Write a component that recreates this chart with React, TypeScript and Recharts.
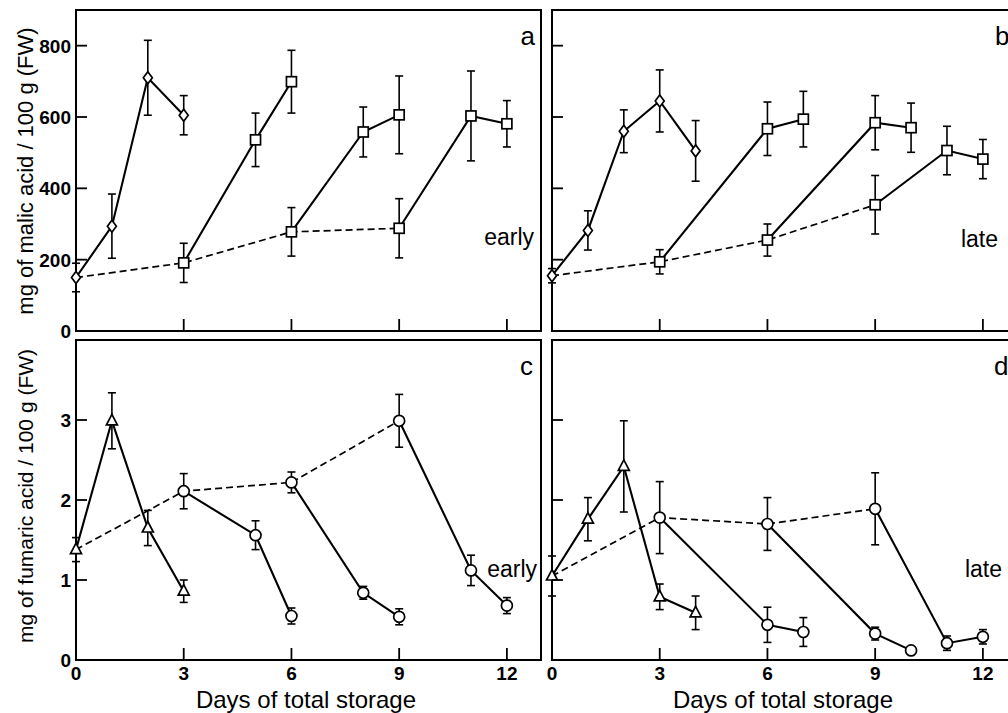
import React from "react";
import {
  ComposedChart,
  Line,
  XAxis,
  YAxis,
  ErrorBar,
  ReferenceArea,
} from "recharts";

const FONT = '"Liberation Sans", Arial, Helvetica, sans-serif';

// -------------------------
// DATA
// -------------------------
const DAY_TICKS = [0, 3, 6, 9, 12];
const MALIC_TICKS = [0, 200, 400, 600, 800];
const FUMARIC_TICKS = [0, 1, 2, 3];

type Pt = { day: number; v: number; e?: number };

// a: malic acid, early
const aDiamond: Pt[] = [
  { day: 0, v: 150, e: 40 },
  { day: 1, v: 294, e: 90 },
  { day: 2, v: 710, e: 105 },
  { day: 3, v: 605, e: 55 },
];
const aDashed: Pt[] = [
  { day: 0, v: 150 },
  { day: 3, v: 191 },
  { day: 6, v: 278 },
  { day: 9, v: 288 },
];
const aSquare3: Pt[] = [
  { day: 3, v: 191, e: 55 },
  { day: 5, v: 536, e: 75 },
  { day: 6, v: 699, e: 88 },
];
const aSquare6: Pt[] = [
  { day: 6, v: 278, e: 68 },
  { day: 8, v: 558, e: 70 },
  { day: 9, v: 606, e: 109 },
];
const aSquare9: Pt[] = [
  { day: 9, v: 288, e: 83 },
  { day: 11, v: 603, e: 126 },
  { day: 12, v: 581, e: 65 },
];

// b: malic acid, late
const bDiamond: Pt[] = [
  { day: 0, v: 155, e: 20 },
  { day: 1, v: 282, e: 55 },
  { day: 2, v: 560, e: 60 },
  { day: 3, v: 645, e: 87 },
  { day: 4, v: 505, e: 85 },
];
const bDashed: Pt[] = [
  { day: 0, v: 155 },
  { day: 3, v: 194 },
  { day: 6, v: 255 },
  { day: 9, v: 354 },
];
const bSquare3: Pt[] = [
  { day: 3, v: 194, e: 34 },
  { day: 6, v: 567, e: 75 },
  { day: 7, v: 594, e: 78 },
];
const bSquare6: Pt[] = [
  { day: 6, v: 255, e: 45 },
  { day: 9, v: 584, e: 76 },
  { day: 10, v: 570, e: 69 },
];
const bSquare9: Pt[] = [
  { day: 9, v: 354, e: 82 },
  { day: 11, v: 506, e: 68 },
  { day: 12, v: 482, e: 55 },
];

// c: fumaric acid, early
const cTriangle: Pt[] = [
  { day: 0, v: 1.38, e: 0.15 },
  { day: 1, v: 2.99, e: 0.35 },
  { day: 2, v: 1.65, e: 0.22 },
  { day: 3, v: 0.86, e: 0.14 },
];
const cDashed: Pt[] = [
  { day: 0, v: 1.38 },
  { day: 3, v: 2.11 },
  { day: 6, v: 2.22 },
  { day: 9, v: 2.99 },
];
const cCircle3: Pt[] = [
  { day: 3, v: 2.11, e: 0.22 },
  { day: 5, v: 1.56, e: 0.18 },
  { day: 6, v: 0.55, e: 0.1 },
];
const cCircle6: Pt[] = [
  { day: 6, v: 2.22, e: 0.13 },
  { day: 8, v: 0.84, e: 0.08 },
  { day: 9, v: 0.54, e: 0.1 },
];
const cCircle9: Pt[] = [
  { day: 9, v: 2.99, e: 0.33 },
  { day: 11, v: 1.12, e: 0.19 },
  { day: 12, v: 0.68, e: 0.1 },
];

// d: fumaric acid, late
const dTriangle: Pt[] = [
  { day: 0, v: 1.05, e: 0.25 },
  { day: 1, v: 1.76, e: 0.27 },
  { day: 2, v: 2.42, e: 0.57 },
  { day: 3, v: 0.79, e: 0.16 },
  { day: 4, v: 0.59, e: 0.21 },
];
const dDashed: Pt[] = [
  { day: 0, v: 1.05 },
  { day: 3, v: 1.78 },
  { day: 6, v: 1.7 },
  { day: 9, v: 1.89 },
];
const dCircle3: Pt[] = [
  { day: 3, v: 1.78, e: 0.45 },
  { day: 6, v: 0.44, e: 0.22 },
  { day: 7, v: 0.35, e: 0.18 },
];
const dCircle6: Pt[] = [
  { day: 6, v: 1.7, e: 0.33 },
  { day: 9, v: 0.33, e: 0.08 },
  { day: 10, v: 0.12, e: 0 },
];
const dCircle9: Pt[] = [
  { day: 9, v: 1.89, e: 0.45 },
  { day: 11, v: 0.21, e: 0.09 },
  { day: 12, v: 0.29, e: 0.09 },
];

// -------------------------
// MARKERS / TICKS
// -------------------------
type Kind = "diamond" | "square" | "triangle" | "circle";

function Marker({ cx, cy, kind }: { cx?: number; cy?: number; kind: Kind }) {
  if (cx == null || cy == null) return null;
  const common = { fill: "#fff", stroke: "#000", strokeWidth: 1.7 };
  if (kind === "diamond")
    return (
      <polygon
        points={`${cx},${cy - 6} ${cx + 4.5},${cy} ${cx},${cy + 6} ${cx - 4.5},${cy}`}
        {...common}
      />
    );
  if (kind === "square")
    return <rect x={cx - 5} y={cy - 5} width={10} height={10} {...common} />;
  if (kind === "triangle")
    return (
      <polygon
        points={`${cx},${cy - 6.5} ${cx + 5.5},${cy + 4} ${cx - 5.5},${cy + 4}`}
        {...common}
      />
    );
  return <circle cx={cx} cy={cy} r={5.5} {...common} />;
}

const tickFont = { fontFamily: FONT, fontSize: 19, fontWeight: 700, fill: "#000" };

function XTick(props: any) {
  const { x, y, payload, showLabel } = props;
  const axisY = y - 6;
  return (
    <g>
      {payload.value !== 0 && (
        <line x1={x} x2={x} y1={axisY} y2={axisY - 12} stroke="#000" strokeWidth={1.8} />
      )}
      {showLabel && (
        <text x={x} y={y} dy="0.72em" textAnchor="middle" style={tickFont}>
          {payload.value}
        </text>
      )}
    </g>
  );
}

function YTick(props: any) {
  const { x, y, payload, showLabel } = props;
  const axisX = x + 5;
  return (
    <g>
      {payload.value !== 0 && (
        <line x1={axisX} x2={axisX + 11} y1={y} y2={y} stroke="#000" strokeWidth={1.8} />
      )}
      {showLabel && (
        <text x={x} y={y} dy="0.36em" textAnchor="end" style={tickFont}>
          {payload.value}
        </text>
      )}
    </g>
  );
}

type Series = { data: Pt[]; kind?: Kind; dashed?: boolean };

const X_MAX = 12.95;

function Panel({
  left,
  top,
  width,
  height,
  yWidth,
  xHeight,
  yMax,
  yTicks,
  showY,
  showX,
  series,
}: {
  left: number;
  top: number;
  width: number;
  height: number;
  yWidth: number;
  xHeight: number;
  yMax: number;
  yTicks: number[];
  showY: boolean;
  showX: boolean;
  series: Series[];
}) {
  return (
    <div style={{ position: "absolute", left, top }}>
      <ComposedChart
        width={width}
        height={height}
        margin={{ top: 10, right: 19, bottom: 0, left: 0 }}
      >
        <XAxis
          type="number"
          dataKey="day"
          domain={[0, X_MAX]}
          ticks={DAY_TICKS}
          interval={0}
          axisLine={false}
          tickLine={false}
          tickSize={0}
          tickMargin={6}
          height={xHeight}
          tick={<XTick showLabel={showX} />}
        />
        <YAxis
          type="number"
          domain={[0, yMax]}
          ticks={yTicks}
          interval={0}
          axisLine={false}
          tickLine={false}
          tickSize={0}
          tickMargin={5}
          width={yWidth}
          tick={<YTick showLabel={showY} />}
        />
        <ReferenceArea
          x1={0}
          x2={X_MAX}
          y1={0}
          y2={yMax}
          fill="none"
          stroke="#000"
          strokeWidth={2}
          ifOverflow="visible"
        />
        {series.map((s, i) =>
          s.dashed ? (
            <Line
              key={i}
              data={s.data}
              dataKey="v"
              type="linear"
              stroke="#000"
              strokeWidth={1.7}
              strokeDasharray="7 4"
              dot={false}
              activeDot={false}
              isAnimationActive={false}
            />
          ) : (
            <Line
              key={i}
              data={s.data}
              dataKey="v"
              type="linear"
              stroke="#000"
              strokeWidth={2.1}
              dot={(p: any) => (
                <Marker key={`${i}-${p.index}`} cx={p.cx} cy={p.cy} kind={s.kind as Kind} />
              )}
              activeDot={false}
              isAnimationActive={false}
            >
              <ErrorBar dataKey="e" direction="y" width={4} stroke="#000" strokeWidth={1.6} />
            </Line>
          )
        )}
      </ComposedChart>
    </div>
  );
}

// -------------------------
// UI
// -------------------------
export default function App() {
  const big = { fontFamily: FONT, fill: "#000" };
  return (
    <div
      style={{
        position: "absolute",
        left: 0,
        top: 0,
        width: 1008,
        height: 713,
        overflow: "hidden",
        background: "#fff",
      }}
    >
      {/* a */}
      <Panel
        left={0}
        top={0}
        width={560}
        height={352}
        yWidth={76}
        xHeight={21}
        yMax={900}
        yTicks={MALIC_TICKS}
        showY
        showX={false}
        series={[
          { data: aDashed, dashed: true },
          { data: aDiamond, kind: "diamond" },
          { data: aSquare3, kind: "square" },
          { data: aSquare6, kind: "square" },
          { data: aSquare9, kind: "square" },
        ]}
      />
      {/* b */}
      <Panel
        left={542}
        top={0}
        width={494}
        height={352}
        yWidth={10}
        xHeight={21}
        yMax={900}
        yTicks={MALIC_TICKS}
        showY={false}
        showX={false}
        series={[
          { data: bDashed, dashed: true },
          { data: bDiamond, kind: "diamond" },
          { data: bSquare3, kind: "square" },
          { data: bSquare6, kind: "square" },
          { data: bSquare9, kind: "square" },
        ]}
      />
      {/* c */}
      <Panel
        left={0}
        top={330}
        width={560}
        height={383}
        yWidth={76}
        xHeight={53}
        yMax={4}
        yTicks={FUMARIC_TICKS}
        showY
        showX
        series={[
          { data: cDashed, dashed: true },
          { data: cTriangle, kind: "triangle" },
          { data: cCircle3, kind: "circle" },
          { data: cCircle6, kind: "circle" },
          { data: cCircle9, kind: "circle" },
        ]}
      />
      {/* d */}
      <Panel
        left={542}
        top={330}
        width={494}
        height={383}
        yWidth={10}
        xHeight={53}
        yMax={4}
        yTicks={FUMARIC_TICKS}
        showY={false}
        showX
        series={[
          { data: dDashed, dashed: true },
          { data: dTriangle, kind: "triangle" },
          { data: dCircle3, kind: "circle" },
          { data: dCircle6, kind: "circle" },
          { data: dCircle9, kind: "circle" },
        ]}
      />

      {/* titles and panel labels */}
      <svg
        width={1008}
        height={713}
        style={{ position: "absolute", left: 0, top: 0, pointerEvents: "none" }}
      >
        <text
          transform="translate(33,171) rotate(-90)"
          textAnchor="middle"
          style={{ ...big, fontSize: 22 }}
        >
          mg of malic acid / 100 g (FW)
        </text>
        <text
          transform="translate(33,496) rotate(-90)"
          textAnchor="middle"
          style={{ ...big, fontSize: 21 }}
        >
          mg of fumaric acid / 100 g (FW)
        </text>
        <text x={306} y={708} textAnchor="middle" style={{ ...big, fontSize: 24 }}>
          Days of total storage
        </text>
        <text x={783} y={708} textAnchor="middle" style={{ ...big, fontSize: 24 }}>
          Days of total storage
        </text>

        <text x={535} y={45} textAnchor="end" style={{ ...big, fontSize: 26 }}>a</text>
        <text x={995} y={45} textAnchor="start" style={{ ...big, fontSize: 26 }}>b</text>
        <text x={533} y={375} textAnchor="end" style={{ ...big, fontSize: 26 }}>c</text>
        <text x={994} y={375} textAnchor="start" style={{ ...big, fontSize: 26 }}>d</text>

        <text x={534} y={245} textAnchor="end" style={{ ...big, fontSize: 23 }}>early</text>
        <text x={998} y={247} textAnchor="end" style={{ ...big, fontSize: 23 }}>late</text>
        <text x={537} y={577} textAnchor="end" style={{ ...big, fontSize: 23 }}>early</text>
        <text x={1002} y={577} textAnchor="end" style={{ ...big, fontSize: 23 }}>late</text>
      </svg>
    </div>
  );
}
